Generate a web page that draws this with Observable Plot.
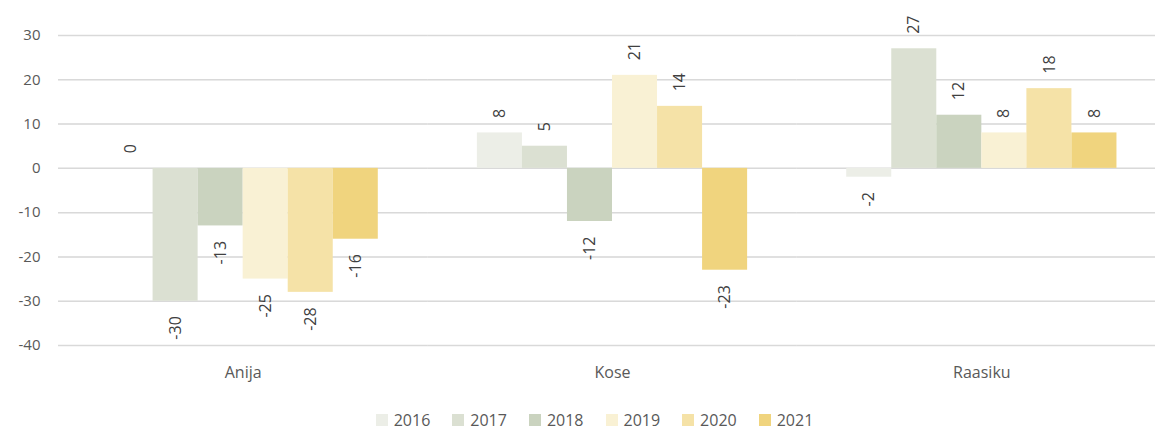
<!DOCTYPE html>
<html>
<head>
<meta charset="utf-8">
<script src="https://cdn.jsdelivr.net/npm/d3@7"></script>
<script src="https://cdn.jsdelivr.net/npm/@observablehq/plot@0.6"></script>
<style>
  html, body { margin: 0; padding: 0; background: #fff; overflow: hidden; }
  #wrap { width: 1155px; overflow: hidden; }
  #legend { display: flex; justify-content: center; align-items: center; gap: 22px; line-height: 18px;
    font-family: "Open Sans", sans-serif; font-size: 16px; color: #595959; margin-top: 21px; padding-left: 34px; }
  #legend .item { display: flex; align-items: center; gap: 6px; }
  #legend .sw { width: 12px; height: 12px; display: inline-block; }
</style>
</head>
<body>
<div id="wrap"><div id="chart"></div></div>
<div id="legend"></div>
<script>
const municipalities = ["Anija", "Kose", "Raasiku"];
const years = ["2016", "2017", "2018", "2019", "2020", "2021"];
const colors = ["#eceee7", "#dbe0d2", "#cad3bf", "#f9f1d4", "#f5e2a7", "#f0d47e"];
const anija = [0, -30, -13, -25, -28, -16];
const kose = [8, 5, -12, 21, 14, -23];
const raasiku = [-2, 27, 12, 8, 18, 8];
const yTicks = [-40, -30, -20, -10, 0, 10, 20, 30];

const series = [anija, kose, raasiku];
const data = [];
municipalities.forEach((m, i) => years.forEach((y, j) => data.push({m, year: y, value: series[i][j]})));

const font = "'Open Sans', sans-serif";
const chart = Plot.plot({
  width: 1166,
  height: 390,
  marginLeft: 58,
  marginRight: 0,
  marginTop: 35,
  marginBottom: 45,
  style: {fontFamily: font, fontSize: "15px", color: "#595959", background: "#fff", maxWidth: "none"},
  fx: {domain: municipalities, padding: 0, round: false, label: null, axis: "bottom", tickSize: 0, tickPadding: 21},
  x: {domain: years, paddingInner: 0, paddingOuter: 1.1, round: false, axis: null},
  y: {domain: [-40, 30], ticks: yTicks, grid: true, label: null, tickSize: 0, tickPadding: 18, tickFormat: d => String(d)},
  color: {domain: years, range: colors},
  marks: [
    Plot.gridY(yTicks, {stroke: "#d9d9d9", strokeOpacity: 1, strokeWidth: 1.5}),
    Plot.barY(data, {fx: "m", x: "year", y: "value", fill: "year"}),
    Plot.text(data.filter(d => d.value >= 0), {fx: "m", x: "year", y: "value", text: d => String(d.value),
      rotate: -90, textAnchor: "start", dy: -15, fill: "#404040", fontSize: 16}),
    Plot.text(data.filter(d => d.value < 0), {fx: "m", x: "year", y: "value", text: d => String(d.value),
      rotate: -90, textAnchor: "end", dy: 15, fill: "#404040", fontSize: 16})
  ]
});
chart.querySelectorAll("g[aria-label='fx-axis tick label'], g[aria-label='fx-axis']").forEach(e => e.setAttribute("font-size", "16"));
document.getElementById("chart").appendChild(chart);

const legend = document.getElementById("legend");
years.forEach((y, i) => {
  const item = document.createElement("span");
  item.className = "item";
  item.innerHTML = `<span class="sw" style="background:${colors[i]}"></span><span>${y}</span>`;
  legend.appendChild(item);
});
</script>
</body>
</html>
